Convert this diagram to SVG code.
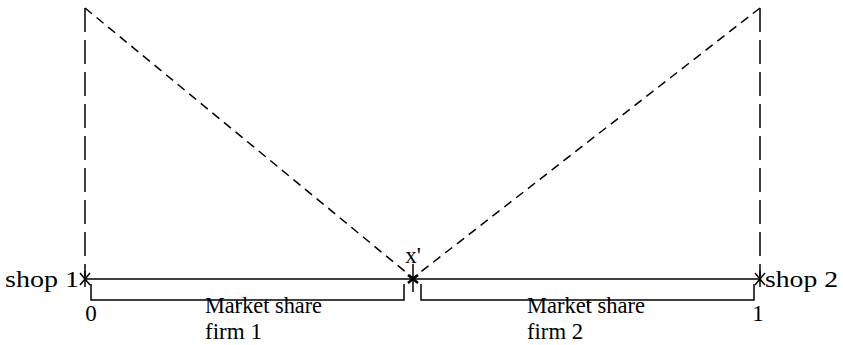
<svg xmlns="http://www.w3.org/2000/svg" width="843" height="345" viewBox="0 0 843 345">
<style>
.dash{fill:none;stroke:#000;stroke-width:1.5;stroke-dasharray:24,8}
.ddash{fill:none;stroke:#000;stroke-width:1.5;stroke-dasharray:9,6}
.solid{fill:none;stroke:#000;stroke-width:1.5}
.t{font-family:"Liberation Serif","Times New Roman",serif;font-size:23px;fill:#000}
</style>
<rect width="843" height="345" fill="#fff"/>
<g id="connectors">
<line class="dash" x1="85" y1="8" x2="85" y2="276"/>
<line class="dash" x1="760" y1="8" x2="760" y2="276"/>
<line class="ddash" x1="85" y1="8" x2="413" y2="278"/>
<line class="ddash" x1="760" y1="8" x2="413" y2="278"/>
</g>
<g id="axis">
<line class="solid" x1="85" y1="279" x2="760" y2="279"/>
</g>
<g id="shop1">
<path class="solid" d="M85,271V287M80,273L90,285M80,285L90,273"/>
<text class="t" x="5" y="287" textLength="74" lengthAdjust="spacingAndGlyphs">shop 1</text>
<text class="t" x="91" y="321" text-anchor="middle">0</text>
</g>
<g id="shop2">
<path class="solid" d="M760,271V287M755,273L765,285M755,285L765,273"/>
<text class="t" x="765" y="287" textLength="73" lengthAdjust="spacingAndGlyphs">shop 2</text>
<text class="t" x="758" y="321" text-anchor="middle">1</text>
</g>
<g id="xprime">
<path class="solid" d="M413,264V292"/>
<path d="M408,275L418,283M408,283L418,275" stroke="#000" stroke-width="2.5"/>
<text class="t" x="413" y="263" text-anchor="middle">x'</text>
</g>
<g id="share1">
<path class="solid" d="M91,284V300H404V284M237,300V308"/>
<text class="t" x="205" y="313" textLength="117" lengthAdjust="spacingAndGlyphs">Market share</text>
<text class="t" x="205" y="339" textLength="57" lengthAdjust="spacingAndGlyphs">firm 1</text>
</g>
<g id="share2">
<path class="solid" d="M421,284V300H754V284M588,300V308"/>
<text class="t" x="527" y="313" textLength="118" lengthAdjust="spacingAndGlyphs">Market share</text>
<text class="t" x="527" y="339" textLength="56" lengthAdjust="spacingAndGlyphs">firm 2</text>
</g>
</svg>
